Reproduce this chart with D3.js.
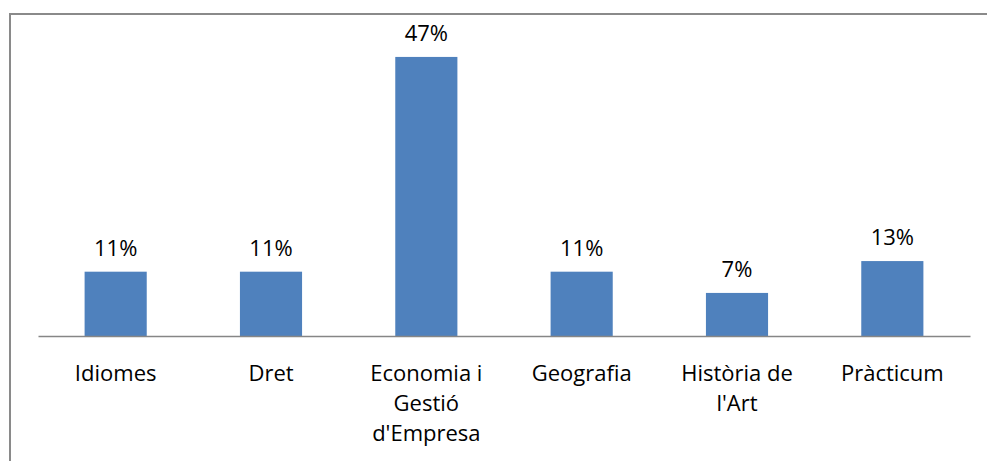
<!DOCTYPE html>
<html>
<head>
<meta charset="utf-8">
<script src="https://cdn.jsdelivr.net/npm/d3@7"></script>
<style>
  html, body { margin: 0; padding: 0; background: #fff; }
  svg { display: block; }
  text { font-family: "Open Sans", sans-serif; fill: #000; }
</style>
</head>
<body>
<svg></svg>
<script>
// categories and shares (percent of responses)
let categories = ["Idiomes", "Dret", "Economia i Gestió d'Empresa", "Geografia", "Història de l'Art", "Pràcticum"];
let shares = [0.109, 0.109, 0.473, 0.109, 0.073, 0.127];

let data = categories.map((c, i) => ({ name: c, value: shares[i] }));

let svgWidth = 987, svgHeight = 461;
let svg = d3.select('svg').attr('width', svgWidth).attr('height', svgHeight);

// chart frame (right and bottom edges fall outside the picture)
svg.append('rect')
    .attr('x', 10).attr('y', 14)
    .attr('width', 1000).attr('height', 500)
    .attr('fill', 'none')
    .attr('stroke', '#8a8a8a')
    .attr('stroke-width', 2);

let plotLeft = 38, plotRight = 970, plotTop = 41, plotBottom = 336;

let x = d3.scaleBand()
    .domain(categories)
    .range([plotLeft, plotRight])
    .paddingInner(0.6)
    .paddingOuter(0.3);

let y = d3.scaleLinear()
    .domain([0, 0.5])
    .range([plotBottom, plotTop]);

let fmt = d3.format('.0%');

svg.append('g')
    .selectAll('rect')
    .data(data)
    .enter().append('rect')
    .attr('x', d => x(d.name))
    .attr('y', d => y(d.value))
    .attr('width', x.bandwidth())
    .attr('height', d => plotBottom - y(d.value))
    .attr('fill', '#4f81bd');

svg.append('g')
    .selectAll('text')
    .data(data)
    .enter().append('text')
    .attr('x', d => x(d.name) + x.bandwidth() / 2)
    .attr('y', d => y(d.value) - 16)
    .attr('text-anchor', 'middle')
    .style('font-size', '22px')
    .text(d => fmt(d.value));

let xAxis = d3.axisBottom(x).tickSize(0).tickSizeOuter(0).tickPadding(0);
let axisG = svg.append('g')
    .attr('transform', 'translate(0,' + plotBottom + ')')
    .call(xAxis);

axisG.select('.domain').attr('stroke', '#868686').attr('stroke-width', 1.5);

// wrap long category names onto several lines
function wrap(sel, width) {
    sel.each(function() {
        let t = d3.select(this);
        let words = t.text().split(/\s+/);
        t.text(null);
        let lines = [], line = [];
        let probe = t.append('tspan');
        words.forEach(w => {
            line.push(w);
            probe.text(line.join(' '));
            if (probe.node().getComputedTextLength() > width && line.length > 1) {
                line.pop();
                lines.push(line.join(' '));
                line = [w];
            }
        });
        lines.push(line.join(' '));
        probe.remove();
        lines.forEach((l, i) => {
            t.append('tspan')
                .attr('x', 0)
                .attr('y', 45 + i * 30)
                .text(l);
        });
    });
}

axisG.selectAll('.tick text')
    .attr('font-family', null)
    .attr('font-size', null)
    .attr('dy', null)
    .attr('fill', null)
    .style('font-size', '22px')
    .call(wrap, x.step() * 0.92);
</script>
</body>
</html>
